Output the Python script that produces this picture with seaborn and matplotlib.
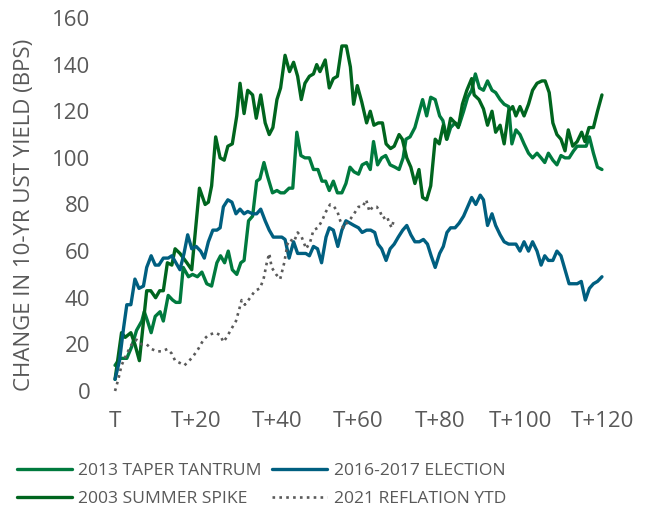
import numpy as np
import pandas as pd
import matplotlib
matplotlib.use("Agg")
import matplotlib.pyplot as plt
import seaborn as sns

# ---------------- data ----------------
x_taper = [0, 1.2, 2.9, 4.1, 5.3, 6.6, 7.2, 8, 8.9, 9.9, 11.1, 11.9, 13.1, 14.2, 15, 16, 16.8, 18.1, 19.1,
           20.3, 21.4, 22.6, 23.8, 25.1, 26, 27, 27.9, 28.9, 30, 31, 31.8, 32.9, 33.9, 34.9, 35.7, 36.7, 37.6,
           38.8, 39.9, 40.8, 41.7, 42.9, 43.8, 44.8, 45.8, 46.8, 47.9, 48.9, 50, 51, 51.9, 52.8, 53.8, 54.8,
           55.9, 56.9, 57.9, 58.9, 60, 60.9, 62, 62.9, 63.7, 64.7, 65.7, 66.7, 67.8, 69, 70, 71, 71.7, 72.7,
           73.9, 75, 75.8, 76.8, 77.8, 78.9, 80, 80.8, 81.8, 82.7, 83.8, 84.8, 85.9, 86.9, 87.9, 88.8, 89.8,
           90.8, 91.8, 92.9, 93.8, 94.9, 95.9, 97, 97.8, 98.8, 99.8, 100.8, 101.9, 102.9, 104, 105, 105.9,
           106.8, 107.9, 108.9, 109.9, 110.9, 111.9, 113, 113.9, 115, 116.1, 116.9, 117.9, 118.9, 120]
y_taper = [11, 14, 14, 19, 26, 30, 34, 30, 25, 32, 34, 30, 41, 39, 38, 38, 53, 49, 50,
           49, 51, 46, 45, 55, 58, 55, 60, 52, 50, 55, 56, 73, 75, 90, 91, 98, 92,
           85, 86, 85, 85, 87, 87, 111, 101, 100, 100, 95, 95, 90, 90, 86, 90, 85,
           85, 89, 96, 94, 93, 97, 98, 95, 107, 97, 100, 101, 97, 96, 95, 100, 108, 109,
           113, 120, 125, 118, 126, 125, 118, 116, 108, 113, 115, 114, 120, 126, 129, 136, 130,
           129, 133, 129, 128, 125, 123, 122, 106, 112, 110, 106, 102, 100, 102, 100, 98,
           102, 99, 97, 101, 100, 100, 103, 105, 105, 105, 109, 102, 96, 95]

x_election = [0, 1.1, 2.1, 2.9, 3.9, 4.9, 5.9, 7, 7.8, 8.9, 9.9, 10.8, 11.9, 13.1, 14, 15, 16, 17, 17.9,
              18.9, 20, 21.1, 22, 23, 24.1, 25.1, 25.9, 26.7, 27.8, 28.8, 29.8, 30.8, 31.8, 32.7, 33.9,
              34.9, 35.9, 37, 38, 39, 40.1, 41.1, 41.9, 42.9, 44, 45, 46, 47, 47.9, 48.9, 49.9, 50.9,
              52, 52.8, 53.8, 54.9, 55.9, 56.9, 57.9, 58.9, 60, 60.9, 62, 63, 64, 64.8, 65.7, 66.8,
              67.8, 68.8, 69.8, 70.9, 71.9, 72.9, 73.9, 75, 76, 77, 77.9, 78.9, 80, 80.9, 81.8, 82.7,
              83.8, 84.8, 85.9, 86.9, 87.9, 88.9, 90, 90.8, 91.8, 92.9, 93.8, 94.9, 95.9, 97, 98, 98.8,
              99.8, 100.8, 101.9, 102.9, 104, 105, 105.9, 106.8, 107.9, 108.9, 109.9, 110.9, 111.9,
              113, 113.9, 114.9, 115.9, 116.9, 117.9, 118.9, 120]
y_election = [5, 13, 27, 37, 37, 48, 44, 45, 53, 58, 54, 54, 57, 57, 58, 55, 52, 59, 67,
              61, 62, 60, 57, 64, 69, 69, 70, 79, 82, 81, 76, 78, 76, 77, 76,
              76, 78, 73, 69, 66, 66, 66, 65, 57, 64, 59, 59, 59, 58, 62, 61, 55,
              66, 70, 69, 62, 69, 73, 72, 71, 70, 68, 69, 69, 68, 63, 61, 56,
              61, 63, 66, 69, 71, 67, 64, 64, 65, 63, 58, 53, 59, 62, 68, 70,
              70, 72, 75, 79, 83, 80, 84, 82, 71, 76, 71, 67, 64, 63, 63, 63,
              60, 64, 60, 64, 60, 54, 58, 56, 56, 60, 58, 52, 46,
              46, 46, 47, 39, 44, 46, 47, 49]

x_summer = [0, 1.6, 2.5, 3.9, 4.9, 6, 7.8, 8.8, 10, 11, 11.9, 12.9, 14, 14.8, 16, 17.7, 18.9, 20.8,
            22.2, 23, 23.8, 24.8, 25.9, 26.9, 27.8, 28.9, 30, 30.8, 31.8, 32.7, 33.9, 34.8, 35.9, 37,
            38, 38.9, 39.9, 40.8, 41.9, 43, 44, 45, 45.9, 46.8, 47.9, 48.9, 49.7, 50.5, 51.8, 52.8,
            53.8, 54.8, 55.9, 57, 58, 58.8, 59.7, 60.8, 62, 62.9, 63.8, 64.9, 65.9, 66.8, 67.9, 68.8,
            70, 70.8, 71.9, 72.9, 73.9, 74.9, 75.8, 76.8, 77.8, 78.9, 79.9, 80.9, 81.7, 82.7, 83.8,
            84.6, 85.6, 86.7, 87.9, 88.5, 89.7, 90.8, 91.8, 92.9, 93.8, 94.9, 95.9, 97, 98, 98.8,
            99.8, 100.8, 101.9, 102.9, 104, 105.2, 106, 107, 107.9, 108.9, 109.9, 110.9, 111.7,
            112.8, 113.9, 115, 115.8, 116.8, 117.9, 118.9, 120]
y_summer = [5, 25, 23, 25, 20, 13, 43, 43, 40, 43, 43, 55, 54, 61, 59, 55, 52, 87,
            80, 81, 88, 109, 100, 99, 105, 106, 118, 132, 119, 129, 127, 117, 127, 115,
            110, 113, 125, 130, 144, 137, 141, 135, 125, 132, 135, 136, 140, 137, 142, 130,
            134, 135, 148, 148, 139, 123, 131, 124, 115, 120, 114, 115, 115, 106, 104, 105,
            110, 108, 100, 96, 89, 95, 83, 82, 88, 108, 106, 114, 108, 117, 115,
            113, 123, 129, 134, 127, 125, 121, 114, 120, 111, 114, 106, 120, 122, 118,
            122, 118, 123, 129, 132, 133, 133, 128, 115, 110, 108, 103, 112,
            105, 107, 111, 107, 113, 113, 120, 127]

x_reflation = [0, 0.8, 1.6, 2.9, 4.1, 5.3, 6.6, 7.8, 9, 10.3, 11.5, 12.9, 14, 14.8, 16, 17.1, 18.3, 19.3,
               20.5, 21.8, 23, 24.7, 25.9, 26.7, 27.5, 28.8, 29.8, 30.6, 31.2, 32, 33.3, 34.5, 35.7,
               36.6, 37.4, 38, 38.6, 39.7, 40.7, 41.7, 42.5, 43.1, 44.1, 45, 46, 47.1, 48.1, 48.9, 50,
               51, 52, 53, 54, 54.8, 55.5, 56.3, 57.1, 58.1, 58.9, 60, 61, 61.9, 62.7, 63.5, 64.5,
               65.3, 66, 67, 67.6, 68.2, 68.8]
y_reflation = [0, 5, 11, 16, 20, 22, 20, 20, 18, 17, 17, 18, 16, 13, 12, 11, 13, 15,
               18, 22, 24, 25, 24, 21, 23, 27, 30, 35, 39, 37, 40, 43, 44,
               48, 55, 59, 53, 50, 48, 55, 63, 65, 64, 68, 66, 61, 64, 69, 70,
               73, 77, 80, 79, 77, 73, 70, 72, 74, 76, 79, 79, 82, 77, 79, 79,
               77, 74, 75, 72, 70, 74]

labels = ["2013 TAPER TANTRUM", "2016-2017 ELECTION", "2003 SUMMER SPIKE", "2021 REFLATION YTD"]
x_ticks = [0, 20, 40, 60, 80, 100, 120]
x_ticklabels = ["T", "T+20", "T+40", "T+60", "T+80", "T+100", "T+120"]
y_ticks = [0, 20, 40, 60, 80, 100, 120, 140, 160]

# ---------------- style ----------------
sns.set_theme(style="white")
plt.rcParams["font.family"] = ["Open Sans", "DejaVu Sans"]
TXT = "#595959"
c_taper = "#007A3E"
c_election = "#005F80"
c_summer = "#00651E"
c_reflation = "#5A5A5A"

fig = plt.figure(figsize=(6.52, 5.13), dpi=100)
ax = fig.add_axes([104.9 / 652, (513 - 400.3) / 513, 507.2 / 652, 389.3 / 513])

lw = 2.4
sns.lineplot(x=x_taper, y=y_taper, ax=ax, color=c_taper, lw=lw, label=labels[0], estimator=None, sort=False)
sns.lineplot(x=x_summer, y=y_summer, ax=ax, color=c_summer, lw=lw, label=labels[2], estimator=None, sort=False)
sns.lineplot(x=x_election, y=y_election, ax=ax, color=c_election, lw=lw, label=labels[1], estimator=None, sort=False)
sns.lineplot(x=x_reflation, y=y_reflation, ax=ax, color=c_reflation, lw=1.9, label=labels[3],
             estimator=None, sort=False, linestyle=(0, (1, 1.6)))

ax.set_xlim(-2.5, 122.5)
ax.set_ylim(-4, 163)
ax.set_xticks(x_ticks)
ax.set_xticklabels(x_ticklabels)
ax.set_yticks(y_ticks)
for s in ax.spines.values():
    s.set_visible(False)
ax.tick_params(axis="both", length=0, labelsize=16, labelcolor=TXT)
ax.tick_params(axis="y", pad=10.5)
ax.tick_params(axis="x", pad=7.5)
ax.set_xlabel("")
ax.set_ylabel("")
ax.grid(False)

fig.text(25 / 652, 1 - 215 / 513, "CHANGE IN 10-YR UST YIELD (BPS)", rotation=90,
         ha="center", va="center", fontsize=16, color=TXT)

handles, labs = ax.get_legend_handles_labels()
ax.get_legend().remove()
leg = fig.legend(handles, labs, ncol=2, loc="upper left", bbox_to_anchor=(17 / 652, 1 - 463 / 513),
                 frameon=False, fontsize=12.6, handlelength=3.15, handletextpad=0.35,
                 columnspacing=0.6, labelspacing=0.67, borderpad=0, borderaxespad=0)
for t in leg.get_texts():
    t.set_color(TXT)

fig.savefig("out.png", dpi=100)
